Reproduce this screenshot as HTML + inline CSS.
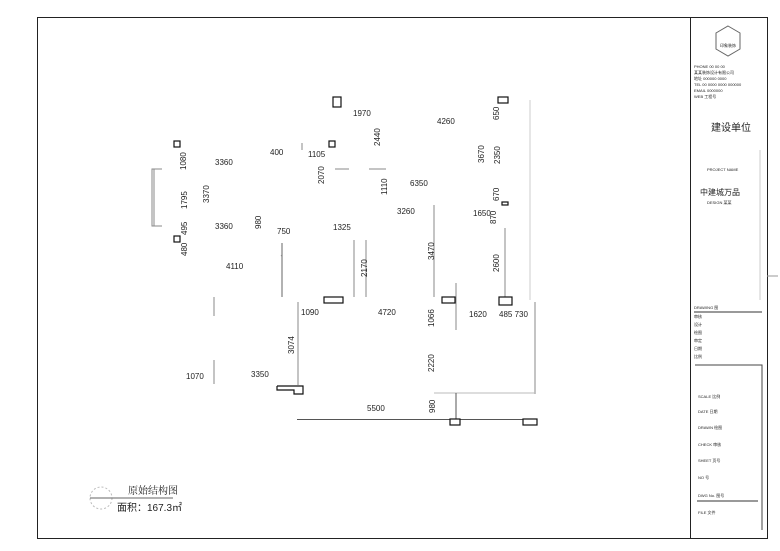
<!DOCTYPE html>
<html><head><meta charset="utf-8"><style>
html,body{margin:0;padding:0;background:#fff;width:780px;height:551px;overflow:hidden}
svg{display:block}
text{font-family:"Liberation Sans","Noto Sans CJK SC",sans-serif;fill:#222}
.d{font-size:8px}
</style></head><body>
<svg width="780" height="551" viewBox="0 0 780 551" xmlns="http://www.w3.org/2000/svg">
<g fill="none" stroke="#222" stroke-width="1">
<rect x="37.5" y="17.5" width="730" height="521"/>
<line x1="690.5" y1="17" x2="690.5" y2="538"/>
<line x1="767" y1="276" x2="778" y2="276" stroke="#999"/>
</g>
<!-- plan lines -->
<g stroke="#888" stroke-width="1" fill="none">
<polyline points="162,169 152,169 152,226 162,226"/>
<line x1="154" y1="169" x2="154" y2="226"/>
<line x1="282" y1="243" x2="282" y2="297" stroke-width="1.3"/>
<polyline points="282,256 282,255 281,256"/>
<line x1="354" y1="240" x2="354" y2="297"/>
<line x1="366" y1="240" x2="366" y2="297"/>
<line x1="434" y1="205" x2="434" y2="297"/>
<line x1="456" y1="283" x2="456" y2="330"/>
<line x1="505" y1="228" x2="505" y2="297"/>
<line x1="530" y1="100" x2="530" y2="300" stroke="#ccc"/>
<line x1="214" y1="297" x2="214" y2="316"/>
<line x1="214" y1="360" x2="214" y2="384"/>
<line x1="298" y1="302" x2="298" y2="385"/>
<line x1="535" y1="302" x2="535" y2="394"/>
<line x1="434" y1="393" x2="535" y2="393" stroke="#bbb"/>
<line x1="297" y1="419.5" x2="537" y2="419.5" stroke="#555"/>
<line x1="456" y1="393" x2="456" y2="420" stroke="#555"/>
<line x1="335" y1="169" x2="349" y2="169"/>
<line x1="369" y1="169" x2="386" y2="169"/>
<line x1="302" y1="143" x2="302" y2="150"/>
</g>
<g fill="#fff" stroke="#111" stroke-width="1.2">
<rect x="333" y="97" width="8" height="10"/>
<rect x="498" y="97" width="10" height="6"/>
<rect x="174" y="141" width="6" height="6"/>
<rect x="329" y="141" width="6" height="6"/>
<rect x="174" y="236" width="6" height="6"/>
<rect x="502" y="202" width="6" height="3"/>
<rect x="324" y="297" width="19" height="6"/>
<rect x="442" y="297" width="13" height="6"/>
<rect x="499" y="297" width="13" height="8"/>
<polyline points="277,386 303,386 303,394 294,394 294,390 277,390 277,386"/>
<rect x="450" y="419" width="10" height="6"/>
<rect x="523" y="419" width="14" height="6"/>
</g>
<g class="d">
<text x="353" y="116">1970</text>
<text x="437" y="124">4260</text>
<text x="215" y="165">3360</text>
<text x="270" y="155">400</text>
<text x="308" y="157">1105</text>
<text x="410" y="186">6350</text>
<text x="397" y="214">3260</text>
<text x="473" y="216">1650</text>
<text x="277" y="234">750</text>
<text x="333" y="230">1325</text>
<text x="215" y="229">3360</text>
<text x="226" y="269">4110</text>
<text x="301" y="315">1090</text>
<text x="378" y="315">4720</text>
<text x="469" y="317">1620</text>
<text x="499" y="317">485 730</text>
<text x="186" y="379">1070</text>
<text x="251" y="377">3350</text>
<text x="367" y="411">5500</text>
</g>
<g class="d">
<text transform="translate(499,120) rotate(-90)">650</text>
<text transform="translate(186,170) rotate(-90)">1080</text>
<text transform="translate(380,146) rotate(-90)">2440</text>
<text transform="translate(484,163) rotate(-90)">3670</text>
<text transform="translate(500,164) rotate(-90)">2350</text>
<text transform="translate(324,184) rotate(-90)">2070</text>
<text transform="translate(387,195) rotate(-90)">1110</text>
<text transform="translate(187,209) rotate(-90)">1795</text>
<text transform="translate(209,203) rotate(-90)">3370</text>
<text transform="translate(499,201) rotate(-90)">670</text>
<text transform="translate(496,224) rotate(-90)">870</text>
<text transform="translate(261,229) rotate(-90)">980</text>
<text transform="translate(187,235) rotate(-90)">495</text>
<text transform="translate(187,256) rotate(-90)">480</text>
<text transform="translate(367,277) rotate(-90)">2170</text>
<text transform="translate(434,260) rotate(-90)">3470</text>
<text transform="translate(499,272) rotate(-90)">2600</text>
<text transform="translate(434,327) rotate(-90)">1066</text>
<text transform="translate(294,354) rotate(-90)">3074</text>
<text transform="translate(434,372) rotate(-90)">2220</text>
<text transform="translate(435,413) rotate(-90)">980</text>
</g>
<!-- title -->
<g>
<circle cx="101" cy="498" r="11" fill="none" stroke="#bbb" stroke-dasharray="2,2"/>
<line x1="90" y1="498" x2="173" y2="498" stroke="#666"/>
<text x="128" y="494" style="font-size:10px;font-family:'Noto Serif CJK SC',serif">原始结构图</text>
<text x="117" y="511" style="font-size:10px">面积：167.3㎡</text>
</g>
<!-- title block -->
<g>
<polygon points="728,26 740,33 740,49 728,56 716,49 716,33" fill="none" stroke="#666"/>
<text x="720" y="47" style="font-size:4px">印象装饰</text>
<g style="font-size:4px">
<text x="694" y="68">PHONE 00 00 00</text>
<text x="694" y="74">某某装饰设计有限公司</text>
<text x="694" y="80">地址 000000 0000</text>
<text x="694" y="86">TEL 00 0000 0000 000000</text>
<text x="694" y="92">EMAIL 0000000</text>
<text x="694" y="98">WEB     工程号</text>
</g>
<text x="711" y="131" style="font-size:10px">建设单位</text>
<text x="707" y="171" style="font-size:4px">PROJECT NAME</text>
<text x="700" y="195" style="font-size:8px">中建城万品</text>
<text x="707" y="204" style="font-size:4px">DESIGN  某某</text>
<line x1="760" y1="150" x2="760" y2="300" stroke="#ccc"/>
<g style="font-size:4px">
<text x="694" y="309">DRAWING 图</text>
<line x1="694" y1="312" x2="762" y2="312" stroke="#333"/>
<text x="694" y="318">审核</text><text x="694" y="326">设计</text><text x="694" y="334">绘图</text>
<text x="694" y="342">审定</text><text x="694" y="350">日期</text><text x="694" y="358">比例</text>
</g>
<polyline points="695,365 762,365 762,530" fill="none" stroke="#444"/>
<g style="font-size:4px">
<text x="698" y="398">SCALE 比例</text><text x="698" y="413">DATE 日期</text>
<text x="698" y="429">DRAWN 绘图</text><text x="698" y="446">CHECK 审核</text>
<text x="698" y="462">SHEET 页号</text><text x="698" y="479">NO 号</text>
<text x="698" y="497">DWG No. 图号</text>
<line x1="697" y1="501" x2="758" y2="501" stroke="#333"/>
<text x="698" y="514">FILE 文件</text>
</g>
</g>
</svg>
</body></html>
